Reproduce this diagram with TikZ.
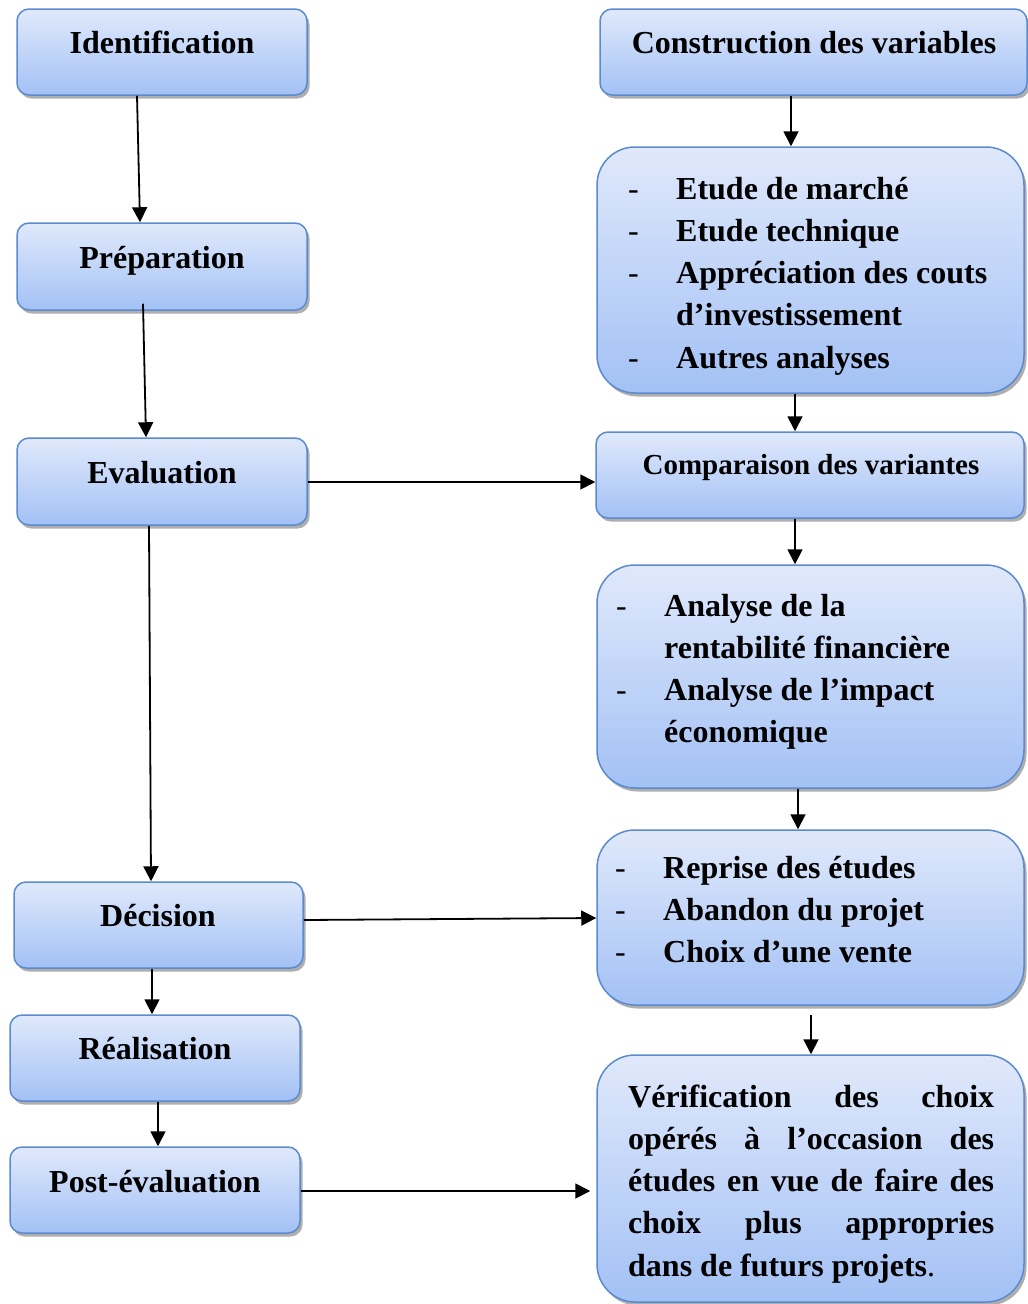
\documentclass[tikz,border=0pt]{standalone}
\usepackage{fontspec}
\setmainfont{Liberation Serif}
\usetikzlibrary{arrows.meta,shadows}
\definecolor{bordc}{HTML}{5B8BCF}
\definecolor{topc}{HTML}{E0E9FB}
\definecolor{botc}{HTML}{A3C1F5}
\tikzset{
  boxs/.style={draw=bordc, line width=1.5pt, rounded corners=12pt,
    top color=topc, bottom color=botc,
    drop shadow={shadow xshift=2.5pt, shadow yshift=-3.5pt, fill=black!45, opacity=0.7},
    inner sep=0pt},
  bigbox/.style={boxs, rounded corners=38pt},
  lbl/.style={font=\bfseries\fontsize{32}{42.3}\selectfont, inner sep=0pt, anchor=base},
  lst/.style={font=\bfseries\fontsize{32}{42.3}\selectfont, inner sep=0pt, anchor=base west, align=left},
  arr/.style={-{Triangle[length=15pt,width=15pt]}, line width=1.8pt}
}
\begin{document}
\begin{tikzpicture}[x=1pt,y=-1pt]
\useasboundingbox (0,0) rectangle (1028,1304);
% left column boxes
\node[boxs, minimum width=290pt, minimum height=86pt] (ident) at (162,52) {};
\node[boxs, minimum width=290pt, minimum height=87pt] (prep) at (162,266.5) {};
\node[boxs, minimum width=290pt, minimum height=87pt] (eval) at (162,481.5) {};
\node[boxs, minimum width=289pt, minimum height=86pt] (dec) at (158.5,925) {};
\node[boxs, minimum width=290pt, minimum height=86pt] (real) at (155,1058) {};
\node[boxs, minimum width=290pt, minimum height=86pt] (post) at (155,1190) {};
% right column boxes
\node[boxs, minimum width=427pt, minimum height=86pt] (constr) at (813.5,52) {};
\node[bigbox, minimum width=427pt, minimum height=246pt] (lone) at (810.5,270) {};
\node[boxs, minimum width=428pt, minimum height=86pt] (comp) at (810,475) {};
\node[bigbox, minimum width=427pt, minimum height=223pt] (ltwo) at (810.5,676.5) {};
\node[bigbox, minimum width=427pt, minimum height=175pt] (lthree) at (810.5,917.5) {};
\node[bigbox, minimum width=427pt, minimum height=247pt] (verif) at (810.5,1178.5) {};
% labels
\node[lbl] (identT) at (162,53) {Identification};
\node[lbl] (prepT) at (162,268) {Préparation};
\node[lbl] (evalT) at (162,483) {Evaluation};
\node[lbl] (decT) at (158,926) {Décision};
\node[lbl] (realT) at (155,1059) {Réalisation};
\node[lbl] (postT) at (155,1192) {Post-évaluation};
\node[lbl] (constrT) at (814,53) {Construction des variables};
\node[lbl, font=\bfseries\fontsize{29}{36}\selectfont] (compT) at (811,474) {Comparaison des variantes};
\node[lst] (loneT) at (628,199) {\begin{tabular}[t]{@{}p{48pt}@{}l@{}}
{\mdseries -} & Etude de marché\\
{\mdseries -} & Etude technique\\
{\mdseries -} & Appréciation des couts\\
 & d’investissement\\
{\mdseries -} & Autres analyses
\end{tabular}};
\node[lst] (ltwoT) at (616,616) {\begin{tabular}[t]{@{}p{48pt}@{}l@{}}
{\mdseries -} & Analyse de la\\
 & rentabilité financière\\
{\mdseries -} & Analyse de l’impact\\
 & économique
\end{tabular}};
\node[lst] (lthreeT) at (615,878) {\begin{tabular}[t]{@{}p{48pt}@{}l@{}}
{\mdseries -} & Reprise des études\\
{\mdseries -} & Abandon du projet\\
{\mdseries -} & Choix d’une vente
\end{tabular}};
\node[lst] (verifT) at (628,1107) {\begin{tabular}[t]{@{}l@{}}
\hbox to 366pt{Vérification\hfill des\hfill choix}\\
\hbox to 366pt{opérés\hfill à\hfill l’occasion\hfill des}\\
\hbox to 366pt{études\hfill en\hfill vue\hfill de\hfill faire\hfill des}\\
\hbox to 366pt{choix\hfill plus\hfill appropries}\\
dans de futurs projets{\mdseries .}
\end{tabular}};
% connectors left
\draw[arr] ([xshift=-25pt]ident.south) -- ([xshift=-22pt]prep.north);
\draw[arr] ([xshift=-19pt,yshift=7pt]prep.south) -- ([xshift=-16pt]eval.north);
\draw[arr] ([xshift=-13pt]eval.south) -- ([xshift=-7.5pt]dec.north);
\draw[arr] ([xshift=-6.5pt]dec.south) -- ([xshift=-3pt]real.north);
\draw[arr] ([xshift=3pt]real.south) -- ([xshift=3pt]post.north);
% connectors right
\draw[arr] ([xshift=-22.5pt]constr.south) -- ([xshift=-19.5pt]lone.north);
\draw[arr] ([xshift=-15.5pt]lone.south) -- ([xshift=-15pt]comp.north);
\draw[arr] ([xshift=-15pt]comp.south) -- ([xshift=-15.5pt]ltwo.north);
\draw[arr] ([xshift=-12.5pt]ltwo.south) -- ([xshift=-12.5pt]lthree.north);
\draw[arr] ([xshift=0.5pt,yshift=-9pt]lthree.south) -- ([xshift=0.5pt]verif.north);
% horizontal connectors
\draw[arr] ([yshift=-0.5pt]eval.east) -- ([yshift=-7pt]comp.west);
\draw[arr] ([yshift=5pt]dec.east) -- ([yshift=-0.5pt]lthree.west);
\draw[arr] ([yshift=-1pt]post.east) -- ([xshift=-6pt,yshift=-12.5pt]verif.west);
\end{tikzpicture}
\end{document}
